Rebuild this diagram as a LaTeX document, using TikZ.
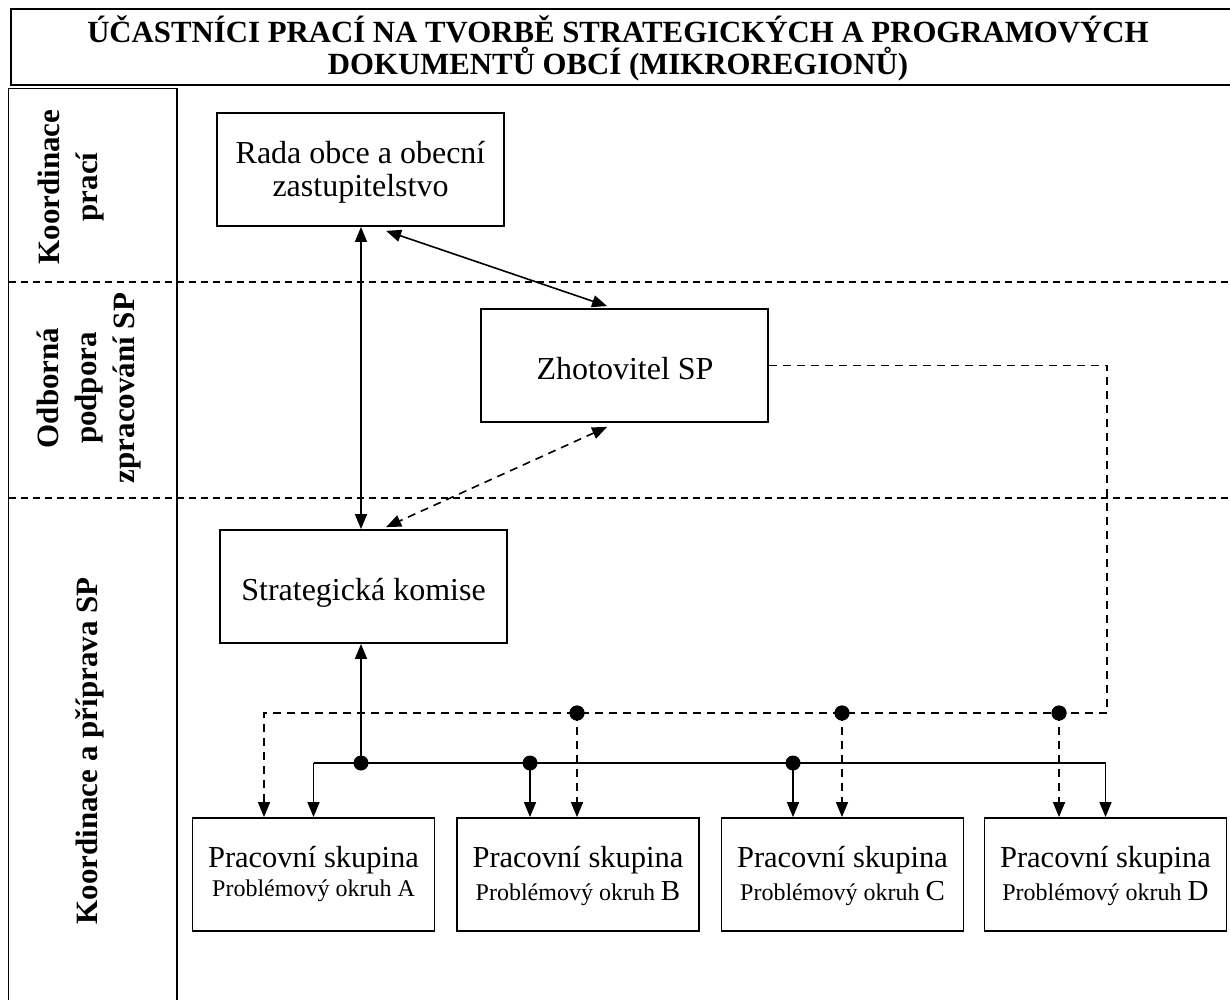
\documentclass[tikz,border=0pt]{standalone}
\usepackage{fontspec}
\setmainfont{Liberation Serif}
\usetikzlibrary{arrows.meta,calc}

\begin{document}
\begin{tikzpicture}[x=1pt,y=-1pt,
  box/.style={draw, line width=1.8pt, minimum width=287pt, minimum height=113pt, inner sep=0pt},
  wbox/.style={box, minimum width=242pt},
  txt/.style={anchor=base, inner sep=0pt, font=\fontsize{32}{36}\selectfont},
  smalltxt/.style={anchor=base, inner sep=0pt, font=\fontsize{24}{28}\selectfont},
  grouptxt/.style={anchor=base, inner sep=0pt, font=\fontsize{30.5}{34}\selectfont},
  titletxt/.style={anchor=base, inner sep=0pt, font=\fontsize{30.8}{34}\selectfont\bfseries},
  side/.style={rotate=90, anchor=north, inner sep=0pt, align=center, font=\fontsize{31}{38}\selectfont\bfseries},
  conn/.style={line width=1.6pt},
  dashedline/.style={dash pattern=on 8pt off 6pt},
  divider/.style={line width=1.3pt, dash pattern=on 7pt off 5pt},
  tip/.style={-{Triangle[length=15pt,width=12pt]}},
  dtip/.style={{Triangle[length=15pt,width=12pt]}-{Triangle[length=15pt,width=12pt]}},
  dot/.style={circle, fill, inner sep=0pt, minimum size=15pt}
]
\fill[white] (0,0) rectangle (1230,1000);
\useasboundingbox (0,0) rectangle (1230,1000);

% title frame and heading
\draw[line width=2.4pt] (1230,9) -- (11,9) -- (11,85) -- (1230,85);
\node[titletxt] (title1) at (618,43) {ÚČASTNÍCI PRACÍ NA TVORBĚ STRATEGICKÝCH A PROGRAMOVÝCH};
\node[titletxt] (title2) at (618,75) {DOKUMENTŮ OBCÍ (MIKROREGIONŮ)};

% left column and level dividers
\draw[line width=1.8pt] (8.5,1000) -- (8.5,88.5) -- (177,88.5) -- (177,1000);
\draw[divider] (8.5,282) -- (1230,282);
\draw[divider] (8.5,498) -- (1230,498);

\node[side] (lev1) at (38,187) {Koordinace\\prací};
\node[side] (lev2) at (37,388) {Odborná\\podpora\\zpracování SP};
\node[side] (lev3) at (75,751) {Koordinace a příprava SP};

% main boxes
\node[box] (rada) at (360.5,169.5) {};
\node[txt] (radat1) at (360.5,164) {Rada obce a obecní};
\node[txt] (radat2) at (360.5,197) {zastupitelstvo};

\node[box] (zhot) at (624.5,365.5) {};
\node[txt] (zhott) at (625,379) {Zhotovitel SP};

\node[box] (strat) at (363.5,586.5) {};
\node[txt] (stratt) at (363.5,600) {Strategická komise};

% working groups
\node[wbox] (pA) at (313.5,874.5) {};
\node[wbox] (pB) at (578,874.5) {};
\node[wbox] (pC) at (842.5,874.5) {};
\node[wbox] (pD) at (1105.5,874.5) {};

\node[grouptxt] (pAt1) at (313.5,867) {Pracovní skupina};
\node[smalltxt] (pAt2) at (313.5,896) {Problémový okruh A};
\node[grouptxt] (pBt1) at (578,867) {Pracovní skupina};
\node[smalltxt] (pBt2) at (578,900) {Problémový okruh {\fontsize{29}{30}\selectfont B}};
\node[grouptxt] (pCt1) at (842.5,867) {Pracovní skupina};
\node[smalltxt] (pCt2) at (842.5,900) {Problémový okruh {\fontsize{29}{30}\selectfont C}};
\node[grouptxt] (pDt1) at (1105.5,867) {Pracovní skupina};
\node[smalltxt] (pDt2) at (1105.5,900) {Problémový okruh {\fontsize{29}{30}\selectfont D}};

% links between the main boxes
\coordinate (vx) at (361,0);
\draw[conn,dtip] (rada.south -| vx) -- (strat.north -| vx);
\draw[conn,dtip] ($(rada.south west)+(170,4)$) -- ($(zhot.north west)+(127,-2)$);
\draw[conn,dashedline,dtip] ($(zhot.south west)+(127,4)$) -- ($(strat.north west)+(167,-2)$);

% solid distribution bus
\node[dot] (j0) at (361,763) {};
\node[dot] (j1) at (530,763) {};
\node[dot] (j2) at (793,763) {};
\coordinate (sl) at (313.5,763);
\coordinate (sr) at (1105.5,763);
\draw[conn] (sl) -- (sr);
\draw[conn,tip] (j0.center) -- (strat.south -| j0);
\draw[conn,tip] (sl) -- (pA.north);
\draw[conn,tip] (j1.center) -- (pB.north -| j1);
\draw[conn,tip] (j2.center) -- (pC.north -| j2);
\draw[conn,tip] (sr) -- (pD.north);

% dashed bus from the contractor
\node[dot] (k1) at (577,713) {};
\node[dot] (k2) at (842,713) {};
\node[dot] (k3) at (1059,713) {};
\coordinate (dr) at (1107,713);
\coordinate (dl) at (264,713);
\draw[conn,dashedline,tip] (zhot.east) -| (dr) -- (dl) -- (dl |- pA.north);
\draw[conn,dashedline,tip] (k1.center) -- (k1 |- pB.north);
\draw[conn,dashedline,tip] (k2.center) -- (k2 |- pC.north);
\draw[conn,dashedline,tip] (k3.center) -- (k3 |- pD.north);
\node[dot] at (k1) {};
\node[dot] at (k2) {};
\node[dot] at (k3) {};
\end{tikzpicture}
\end{document}
